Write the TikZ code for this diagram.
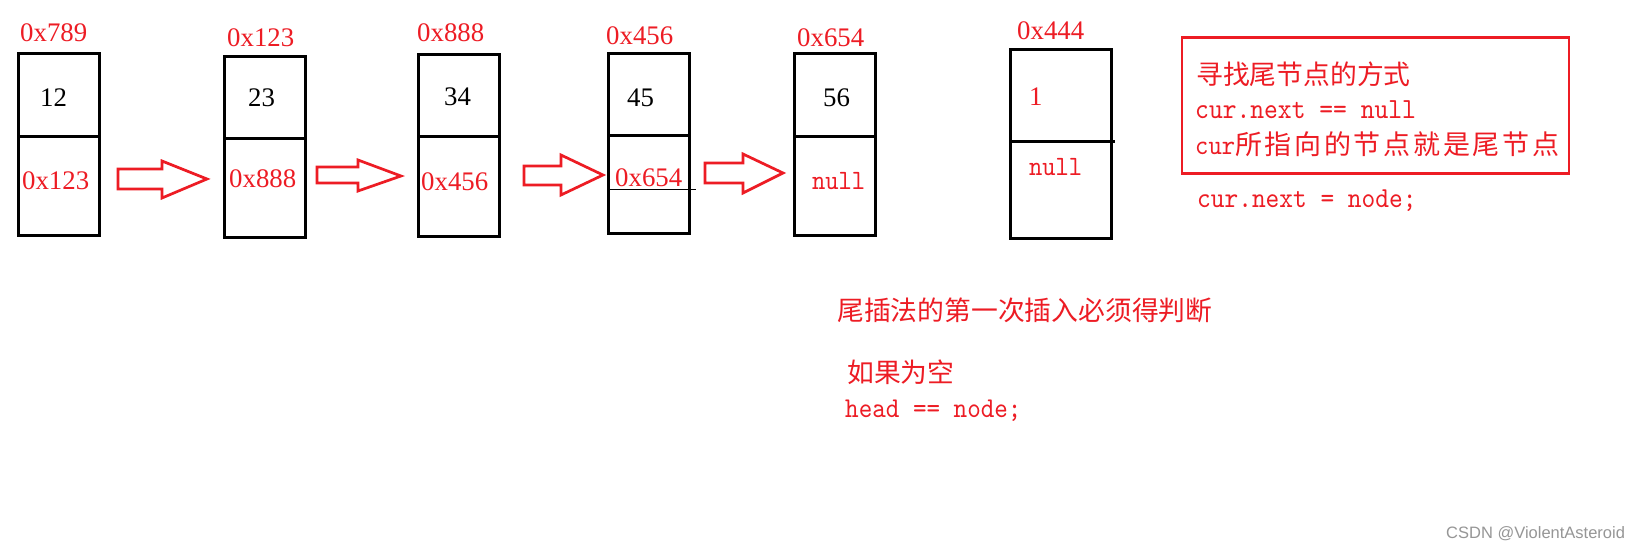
\documentclass[tikz,border=0pt]{standalone}
\usepackage{fontspec}
\setmainfont{Liberation Serif}
\newfontfamily\cjk{Noto Sans CJK SC}
\newfontfamily\cjkls[LetterSpace=10]{Noto Sans CJK SC}
\newfontfamily\mono[FakeStretch=0.9]{lmmono10-regular.otf}
\newfontfamily\wmfont{Liberation Sans}
\definecolor{cred}{RGB}{237,28,36}
\definecolor{wmgray}{RGB}{150,150,150}
\newcommand\listnode[6]{%
  \node[cell, minimum width={#3-#2}, minimum height={#5-#4}, anchor=north west] (#1t) at (#2,#4) {};
  \node[cell, minimum width={#3-#2}, minimum height={#6-#5}, anchor=north west] (#1b) at (#2,#5) {};
}
\begin{document}
\begin{tikzpicture}[x=1pt,y=-1pt,
  cell/.style={draw=black, line width=3pt, inner sep=0pt, outer sep=0pt},
  blockarr/.style={draw=cred, line width=2.7pt, line join=miter},
  hexlbl/.style={anchor=base west, inner sep=0pt, text=cred, font=\fontsize{26.8}{30}\selectfont},
  numlbl/.style={anchor=base west, inner sep=0pt, text=black, font=\fontsize{26.8}{30}\selectfont},
  codelbl/.style={anchor=base west, inner sep=0pt, text=cred},
  cnlbl/.style={anchor=base west, inner sep=0pt, text=cred, font=\cjk\fontsize{26.8}{30}\selectfont}]
\fill[white] (0,0) rectangle (1633,548);
\useasboundingbox (0,0) rectangle (1633,548);

% list nodes
\listnode{b1}{18.5}{99.5}{53.5}{137}{235.5}
\listnode{b2}{224.5}{305.5}{56.5}{139}{237.5}
\listnode{b3}{418.5}{499.5}{54.5}{137}{236.5}
\listnode{b4}{608.5}{689.5}{53.5}{136}{233.5}
\listnode{b5}{794.5}{875.5}{53.5}{137}{235.5}
\listnode{b6}{1010.5}{1111.5}{49.5}{142}{238.5}
\draw[black, line width=3pt] (b6b.north east) -- ++(3.5,0);

% addresses above
\node[hexlbl] (a1) at (20,41.5) {0x789};
\node[hexlbl] (a2) at (227,47) {0x123};
\node[hexlbl] (a3) at (417,41.5) {0x888};
\node[hexlbl] (a4) at (606,45) {0x456};
\node[hexlbl] (a5) at (797,47) {0x654};
\node[hexlbl] (a6) at (1017,40) {0x444};

% values
\node[numlbl] (v1) at (40,107) {12};
\node[numlbl] (v2) at (248,107) {23};
\node[numlbl] (v3) at (444,106) {34};
\node[numlbl] (v4) at (627,107) {45};
\node[numlbl] (v5) at (823,107) {56};
\node[hexlbl] (v6) at (1029,106) {1};

% next fields
\node[hexlbl] (n1) at (22,190) {0x123};
\node[hexlbl] (n2) at (229,188) {0x888};
\node[hexlbl] (n3) at (421,191) {0x456};
\node[hexlbl] (n4) at (615,187) {0x654};
\node[codelbl, font=\mono\fontsize{28}{30}\selectfont] (n5) at (812,190) {null};
\node[codelbl, font=\mono\fontsize{28}{30}\selectfont] (n6) at (1029,176) {null};
\draw[black, line width=1pt] (610,190) -- (696,190);

% block arrows
\draw[blockarr] (118,169) -- (162,169) -- (162,161) -- (207,179) -- (162,198) -- (162,189) -- (118,189) -- cycle;
\draw[blockarr] (317,167) -- (358,167) -- (358,160) -- (401,176) -- (358,191) -- (358,183) -- (317,183) -- cycle;
\draw[blockarr] (524,166) -- (561,166) -- (561,155) -- (603,175) -- (561,195) -- (561,185) -- (524,185) -- cycle;
\draw[blockarr] (705,163) -- (743,163) -- (743,154) -- (783,173) -- (743,193) -- (743,183) -- (705,183) -- cycle;

% note box
\node[draw=cred, line width=2.7pt, minimum width=387, minimum height=136, anchor=north west, inner sep=0pt] (note) at (1180.5,36.5) {};
\node[cnlbl] (t1) at (1196,85) {寻找尾节点的方式};
\node[codelbl, font=\mono\fontsize{29.2}{30}\selectfont] (t2) at (1195,119) {cur.next == null};
\node[codelbl] (t3) at (1195,155) {{\mono\fontsize{28.2}{30}\selectfont cur}{\cjkls\fontsize{27}{30}\selectfont 所指向的节点就是尾节点}};
\node[codelbl, font=\mono\fontsize{29}{30}\selectfont] (t4) at (1197,208) {cur.next = node;};

% bottom notes
\node[cnlbl] (t5) at (837,320) {尾插法的第一次插入必须得判断};
\node[cnlbl] (t6) at (847,382) {如果为空};
\node[codelbl, font=\mono\fontsize{28.7}{30}\selectfont] (t7) at (845,417) {head == node;};

% watermark
\node[anchor=base west, inner sep=0pt, text=wmgray, font=\wmfont\fontsize{16.5}{20}\selectfont] (wm) at (1446,538) {CSDN @ViolentAsteroid};
\end{tikzpicture}
\end{document}
